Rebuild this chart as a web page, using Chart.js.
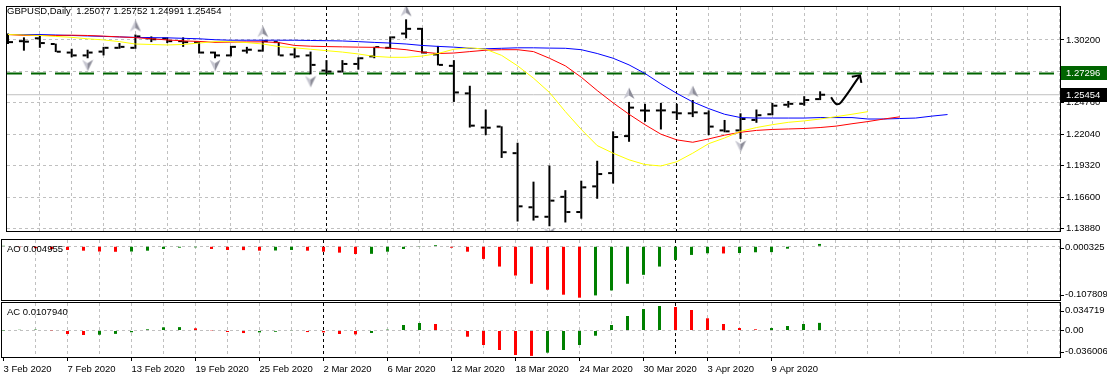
<!DOCTYPE html>
<html>
<head>
<meta charset="utf-8">
<script src="https://cdn.jsdelivr.net/npm/chart.js@4.4.1/dist/chart.umd.min.js"></script>
<style>
  body { margin: 0; background: #fff; }
  #wrap { position: relative; width: 1107px; height: 379px; overflow: hidden; }
  canvas { position: absolute; left: 0; }
</style>
</head>
<body>
<div id="wrap">
  <canvas id="priceChart" width="1107" height="238" style="top:0"></canvas>
  <canvas id="aoChart" width="1107" height="63" style="top:238px"></canvas>
  <canvas id="acChart" width="1107" height="78" style="top:301px"></canvas>
</div>
<script>
// ---- chart data (bar index 0 = 3 Feb 2020) ----
const symbolTitle = 'GBPUSD,Daily';
const dateLabels = ['3 Feb 2020', '7 Feb 2020', '13 Feb 2020', '19 Feb 2020', '25 Feb 2020', '2 Mar 2020',
  '6 Mar 2020', '12 Mar 2020', '18 Mar 2020', '24 Mar 2020', '30 Mar 2020', '3 Apr 2020', '9 Apr 2020'];
const dateLabelBars = [0, 4, 8, 12, 16, 20, 24, 28, 32, 36, 40, 44, 48];
const monthStartBars = [20, 42];

const opens = [1.30504, 1.30093, 1.30340, 1.29847, 1.29107, 1.28860, 1.29189, 1.29518, 1.29518, 1.30340,
  1.30330, 1.30093, 1.30011, 1.29107, 1.28860, 1.29271, 1.29271, 1.30011, 1.28943, 1.28860,
  1.27546, 1.27463, 1.28121, 1.28778, 1.29518, 1.30751, 1.31162, 1.28943, 1.27956, 1.25573,
  1.22615, 1.22697, 1.20396, 1.15712, 1.14890, 1.16616, 1.15300, 1.17520, 1.18670, 1.21875,
  1.24094, 1.24094, 1.23930, 1.23847, 1.23847, 1.22368, 1.22368, 1.23272, 1.23765, 1.24587,
  1.24669, 1.25077];
const highs = [1.30751, 1.30422, 1.30668, 1.29880, 1.29436, 1.29354, 1.29600, 1.29929, 1.30668, 1.30504,
  1.30422, 1.30422, 1.30093, 1.29189, 1.29682, 1.29600, 1.30175, 1.30030, 1.29518, 1.29189,
  1.28450, 1.28450, 1.28696, 1.29600, 1.30504, 1.31983, 1.31244, 1.29682, 1.28450, 1.26231,
  1.24176, 1.22720, 1.21300, 1.17930, 1.19327, 1.17191, 1.18013, 1.19739, 1.22286, 1.24834,
  1.24669, 1.24751, 1.24669, 1.24998, 1.24094, 1.23272, 1.23847, 1.24176, 1.24751, 1.24916,
  1.25327, 1.25752];
const lows = [1.29847, 1.29271, 1.29518, 1.29150, 1.28696, 1.28614, 1.28860, 1.29436, 1.29436, 1.30011,
  1.29929, 1.29600, 1.29025, 1.28614, 1.28778, 1.29025, 1.29189, 1.28840, 1.28614, 1.27217,
  1.27299, 1.27381, 1.27628, 1.28614, 1.29436, 1.30340, 1.29025, 1.28000, 1.24834, 1.22615,
  1.21957, 1.19985, 1.14479, 1.14561, 1.14068, 1.14396, 1.14725, 1.16451, 1.17766, 1.21382,
  1.23108, 1.22450, 1.23272, 1.23519, 1.21957, 1.22204, 1.21629, 1.23026, 1.23683, 1.24340,
  1.24505, 1.24991];
const closes = [1.30011, 1.30050, 1.29929, 1.29180, 1.28860, 1.29107, 1.29518, 1.29600, 1.30504, 1.30258,
  1.30093, 1.30011, 1.29107, 1.28860, 1.29600, 1.29354, 1.30093, 1.28860, 1.28778, 1.28039,
  1.27463, 1.28121, 1.28614, 1.29580, 1.30422, 1.31162, 1.29107, 1.28039, 1.25655, 1.22779,
  1.22600, 1.20478, 1.15794, 1.14890, 1.16287, 1.15300, 1.17438, 1.18588, 1.21793, 1.24340,
  1.24080, 1.24100, 1.23847, 1.23930, 1.22697, 1.22286, 1.23354, 1.23683, 1.24505, 1.24669,
  1.24998, 1.25454];

// Alligator lines as they appear on the chart (already shifted forward)
const jawLine = [1.30668, 1.30668, 1.30668, 1.30627, 1.30586, 1.30545, 1.30504, 1.30463, 1.30422, 1.30397,
  1.30381, 1.30340, 1.30299, 1.30216, 1.30175, 1.30175, 1.30175, 1.30175, 1.30175, 1.30151,
  1.30134, 1.30110, 1.30052, 1.29986, 1.29929, 1.29847, 1.29723, 1.29641, 1.29575, 1.29477,
  1.29436, 1.29477, 1.29518, 1.29518, 1.29493, 1.29477, 1.29354, 1.29025, 1.28614, 1.28039,
  1.27299, 1.26395, 1.25573, 1.24834, 1.24258, 1.23765, 1.23478, 1.23437, 1.23437, 1.23437,
  1.23437, 1.23478, 1.23478, 1.23478, 1.23354, 1.23354, 1.23396, 1.23437, 1.23601, 1.23741];
const teethLine = [1.30668, 1.30586, 1.30586, 1.30586, 1.30611, 1.30586, 1.30529, 1.30463, 1.30397, 1.30299,
  1.30200, 1.30118, 1.30069, 1.29986, 1.30011, 1.30027, 1.30036, 1.29970, 1.29723, 1.29658,
  1.29625, 1.29600, 1.29575, 1.29559, 1.29477, 1.29354, 1.29148, 1.29025, 1.29066, 1.29189,
  1.29312, 1.29354, 1.29354, 1.29189, 1.28614, 1.27956, 1.26970, 1.25820, 1.24751, 1.23765,
  1.22861, 1.22040, 1.21546, 1.21341, 1.21629, 1.21957, 1.22204, 1.22368, 1.22450, 1.22492,
  1.22533, 1.22615, 1.22738, 1.22944, 1.23133, 1.23354, 1.23543];
const lipsLine = [1.30668, 1.30627, 1.30586, 1.30504, 1.30422, 1.30299, 1.30200, 1.30052, 1.29847, 1.29806,
  1.29764, 1.29806, 1.29929, 1.30052, 1.30052, 1.29970, 1.29847, 1.29625, 1.29518, 1.29395,
  1.29271, 1.29148, 1.28984, 1.28778, 1.28696, 1.28696, 1.28803, 1.29025, 1.29395, 1.29518,
  1.29395, 1.28860, 1.27956, 1.26888, 1.25655, 1.23992, 1.22450, 1.21053, 1.20396, 1.19821,
  1.19410, 1.19287, 1.19656, 1.20396, 1.21218, 1.21711, 1.22286, 1.22615, 1.22861, 1.23067,
  1.23190, 1.23354, 1.23560, 1.23765, 1.23992];

const upFractals = [8, 16, 25, 39, 43];
const downFractals = [5, 13, 19, 34, 46];

const aoValues = [0.0005, -0.0020, -0.0040, -0.0060, -0.0077, -0.0092, -0.0110, -0.0115, -0.0110, -0.0092,
  -0.0056, -0.0029, -0.0022, -0.0056, -0.0077, -0.0080, -0.0092, -0.0088, -0.0077, -0.0092,
  -0.0113, -0.0133, -0.0161, -0.0158, -0.0113, -0.0056, -0.0015, 0.0027, -0.0029, -0.0113,
  -0.0265, -0.0425, -0.0613, -0.0786, -0.0911, -0.1015, -0.1078, -0.1030, -0.0926, -0.0786,
  -0.0598, -0.0425, -0.0286, -0.0181, -0.0146, -0.0150, -0.0140, -0.0125, -0.0122, -0.0050,
  -0.0010, 0.004955];
const acValues = [0.0002, 0.0010, 0.0012, 0.0003, -0.0050, -0.0064, -0.0060, -0.0048, -0.0025, 0.0017,
  0.0045, 0.0048, 0.0031, 0.0003, -0.0021, -0.0036, -0.0027, -0.0018, -0.0005, -0.0022,
  -0.0027, -0.0050, -0.0055, -0.0035, 0.0012, 0.0078, 0.0106, 0.0092, 0.0008, -0.0088,
  -0.0205, -0.0276, -0.0347, -0.0360, -0.0314, -0.0276, -0.0205, -0.0074, 0.0078, 0.0205,
  0.0304, 0.0347, 0.0333, 0.0290, 0.0173, 0.0092, 0.0035, 0.0017, 0.0035, 0.0064,
  0.0092, 0.010794];

const priceTicks = [1.13880, 1.16600, 1.19320, 1.22040, 1.24760, 1.27480, 1.30200];
const levelPrice = 1.27296;
const bidPrice = 1.25454;
const aoTickValues = [0.000325, -0.107809];
const aoTickLabels = ['0.000325', '-0.107809'];
const acTickValues = [0.034719, 0, -0.036006];
const acTickLabels = ['0.034719', '0.00', '-0.036006'];

// hand drawn arrow, in (bar, price)
const arrowShaft = [[51.69, 1.25245], [51.875, 1.24834], [52.06, 1.24628], [52.31, 1.24793], [53.5, 1.27135]];
const arrowHead = [[52.99, 1.27011], [53.5, 1.27135], [53.59, 1.26477]];

// ---- helpers ----
const FONT_FAMILY = '"Liberation Sans", Arial, sans-serif';
const FONT_SIZE = 9.5;
const TICK_FONT = { family: FONT_FAMILY, size: FONT_SIZE };
const X_MIN = -0.0625, X_MAX = 66.0625;   // 16 px per bar
const TICK_SHIFT = 3 / 16;
const GRID = '#c0c0c0';
const gridBars = [];
for (let i = 0; i <= 66; i += 2) gridBars.push(i);

const xy = arr => arr.map((v, i) => ({ x: i, y: v }));
const pts = arr => arr.map(p => ({ x: p[0], y: p[1] }));
const barColors = arr => arr.map((v, i) => (i === 0 || v > arr[i - 1]) ? '#008000' : '#ff0000');

function fractalGlyph(up) {
  const c = document.createElement('canvas');
  c.width = 12; c.height = 32;
  const g = c.getContext('2d');
  const p = up ? { tip: [6, 1.5], l: [0.5, 13], n: [6, 9.5], r: [11.5, 13] }
               : { tip: [6, 29], l: [0.5, 17.5], n: [6, 21], r: [11.5, 17.5] };
  g.fillStyle = '#c6c6d0';
  g.beginPath(); g.moveTo(...p.tip); g.lineTo(...p.l); g.lineTo(...p.n); g.closePath(); g.fill();
  g.fillStyle = '#8c8c98';
  g.beginPath(); g.moveTo(...p.tip); g.lineTo(...p.r); g.lineTo(...p.n); g.closePath(); g.fill();
  return c;
}

// frame, month separators, pane titles and right side labels
const paneDecor = {
  id: 'paneDecor',
  beforeDatasetsDraw(chart) {
    const { ctx, chartArea: a, scales: { x } } = chart;
    ctx.save();
    ctx.strokeStyle = '#000';
    ctx.lineWidth = 1;
    ctx.setLineDash([3, 3]);
    monthStartBars.forEach(i => {
      const px = Math.round(x.getPixelForValue(i) - 0.5) + 0.5;
      ctx.beginPath(); ctx.moveTo(px, a.top); ctx.lineTo(px, a.bottom); ctx.stroke();
    });
    ctx.restore();
  },
  afterDraw(chart, args, opts) {
    const { ctx, chartArea: a, scales: { y } } = chart;
    ctx.save();
    ctx.setLineDash([]);
    ctx.strokeStyle = '#000';
    ctx.lineWidth = 1;
    ctx.strokeRect(a.left - 0.5, a.top - 0.5, a.right - a.left + 1, a.bottom - a.top + 1);
    ctx.font = FONT_SIZE + 'px ' + FONT_FAMILY;
    ctx.textAlign = 'left';
    ctx.fillStyle = '#000';
    if (opts.title) {
      ctx.textBaseline = 'alphabetic';
      ctx.fillText(opts.title, 7, 14);
    }
    (opts.rightLabels || []).forEach(l => {
      let py = y.getPixelForValue(l.value);
      py = Math.min(Math.max(py, a.top + 7.5), a.bottom - 5.5);
      ctx.textBaseline = 'middle';
      ctx.fillText(l.text, 1065, py);
      const ty = Math.round(py) + 0.5;
      ctx.beginPath(); ctx.moveTo(a.right, ty); ctx.lineTo(a.right + 4, ty); ctx.stroke();
    });
    (opts.boxes || []).forEach(b => {
      const py = Math.round(y.getPixelForValue(b.value));
      ctx.fillStyle = b.fill;
      ctx.fillRect(a.right + 1, py - 7, 46, 14);
      ctx.fillStyle = '#fff';
      ctx.textBaseline = 'middle';
      ctx.fillText(b.text, 1066, py + 0.5);
    });
    ctx.restore();
  }
};
Chart.register(paneDecor);

function timeAxis(shift, showDates) {
  return {
    type: 'linear', min: X_MIN - shift, max: X_MAX - shift, offset: false,
    afterBuildTicks: s => { s.ticks = gridBars.map(v => ({ value: v })); },
    afterFit: s => { s.height = showDates ? 22 : 0; s.paddingLeft = 0; s.paddingRight = 0; },
    grid: {
      offset: false,
      color: c => (c.tick && c.tick.value === 0) ? 'rgba(0,0,0,0)' : GRID,
      drawTicks: showDates, tickLength: 4, tickBorderDash: [],
      tickColor: c => (c.tick && dateLabelBars.includes(c.tick.value)) ? '#000' : 'rgba(0,0,0,0)'
    },
    border: { display: false, dash: [3, 3] },
    ticks: {
      display: showDates, autoSkip: false, maxRotation: 0, minRotation: 0, align: 'start',
      padding: 3, color: '#000', font: TICK_FONT,
      callback: v => { const k = dateLabelBars.indexOf(v); return k >= 0 ? dateLabels[k] : ''; }
    }
  };
}

function rightAxis(min, max, tickValues, showLabels) {
  return {
    type: 'linear', position: 'right', min: min, max: max,
    afterBuildTicks: s => { s.ticks = tickValues.map(v => ({ value: v })); },
    afterFit: s => { s.width = 47; s.paddingTop = 0; s.paddingBottom = 0; },
    grid: { color: GRID, drawTicks: showLabels, tickLength: 4, tickColor: '#000', tickBorderDash: [] },
    border: { display: false, dash: [3, 3] },
    ticks: { display: showLabels, autoSkip: false, color: '#000', padding: 2, font: TICK_FONT,
             callback: v => v.toFixed(5) }
  };
}

function baseOptions(padding, xAxis, yAxis, decor) {
  return {
    responsive: false, animation: false, devicePixelRatio: 1, events: [],
    layout: { padding: padding },
    plugins: { legend: { display: false }, tooltip: { enabled: false }, paneDecor: decor },
    scales: { x: xAxis, y: yAxis }
  };
}

// ---- price pane ----
const upGlyph = fractalGlyph(true);
const downGlyph = fractalGlyph(false);
const last = opens.length - 1;
const priceTitle = symbolTitle + '  ' + [opens[last], highs[last], lows[last], closes[last]].map(v => v.toFixed(5)).join(' ');

new Chart(document.getElementById('priceChart'), {
  type: 'bar',
  data: {
    datasets: [
      { type: 'line', data: pts(arrowShaft), borderColor: '#000', borderWidth: 2, pointRadius: 0, tension: 0.4, order: 0 },
      { type: 'line', data: pts(arrowHead), borderColor: '#000', borderWidth: 2, pointRadius: 0, tension: 0, order: 0 },
      { type: 'line', showLine: false, data: upFractals.map(i => ({ x: i, y: highs[i] })),
        pointStyle: upGlyph, pointRadius: 6, order: 1 },
      { type: 'line', showLine: false, data: downFractals.map(i => ({ x: i, y: lows[i] })),
        pointStyle: downGlyph, pointRadius: 6, order: 1 },
      { type: 'line', data: xy(lipsLine), borderColor: '#ffff00', borderWidth: 1, pointRadius: 0, tension: 0, order: 2 },
      { type: 'line', data: xy(teethLine), borderColor: '#ff0000', borderWidth: 1, pointRadius: 0, tension: 0, order: 3 },
      { type: 'line', data: xy(jawLine), borderColor: '#0000ff', borderWidth: 1, pointRadius: 0, tension: 0, order: 4 },
      { type: 'line', showLine: false, data: opens.map((v, i) => ({ x: i - TICK_SHIFT, y: v })),
        pointStyle: 'line', pointRadius: 2, pointBorderWidth: 2, pointBorderColor: '#000', order: 5 },
      { type: 'line', showLine: false, data: closes.map((v, i) => ({ x: i + TICK_SHIFT, y: v })),
        pointStyle: 'line', pointRadius: 2, pointBorderWidth: 2, pointBorderColor: '#000', order: 5 },
      { type: 'bar', data: highs.map((h, i) => ({ x: i, y: [lows[i], h] })), backgroundColor: '#000',
        barThickness: 2, inflateAmount: 0, order: 6 },
      { type: 'line', data: [{ x: X_MIN, y: bidPrice }, { x: X_MAX, y: bidPrice }], borderColor: GRID,
        borderWidth: 1, pointRadius: 0, order: 7 },
      { type: 'line', data: [{ x: X_MIN, y: levelPrice }, { x: X_MAX, y: levelPrice }], borderColor: '#006400',
        borderWidth: 2, borderDash: [15, 9], pointRadius: 0, order: 8 }
    ]
  },
  options: baseOptions({ left: 2, top: 1, right: 0, bottom: 1 },
    timeAxis(0, false),
    rightAxis(1.13658, 1.33051, priceTicks, true),
    { title: priceTitle,
      boxes: [{ value: levelPrice, text: levelPrice.toFixed(5), fill: '#006400' },
              { value: bidPrice, text: bidPrice.toFixed(5), fill: '#000' }] })
});

// ---- Awesome Oscillator ----
new Chart(document.getElementById('aoChart'), {
  type: 'bar',
  data: { datasets: [{ data: xy(aoValues), backgroundColor: barColors(aoValues), barThickness: 3, inflateAmount: 0 }] },
  options: baseOptions({ left: 2, top: 2, right: 0, bottom: 1 },
    timeAxis(1 / 32, false),
    rightAxis(-0.11263, 0.013213, [0], false),
    { title: 'AO ' + aoValues[last].toFixed(6),
      rightLabels: aoTickValues.map((v, i) => ({ value: v, text: aoTickLabels[i] })) })
});

// ---- Accelerator Oscillator ----
new Chart(document.getElementById('acChart'), {
  type: 'bar',
  data: { datasets: [{ data: xy(acValues), backgroundColor: barColors(acValues), barThickness: 3, inflateAmount: 0 }] },
  options: baseOptions({ left: 2, top: 2, right: 0, bottom: 0 },
    timeAxis(1 / 32, true),
    rightAxis(-0.037532, 0.038948, [0], false),
    { title: 'AC ' + acValues[last].toFixed(7),
      rightLabels: acTickValues.map((v, i) => ({ value: v, text: acTickLabels[i] })) })
});
</script>
</body>
</html>
